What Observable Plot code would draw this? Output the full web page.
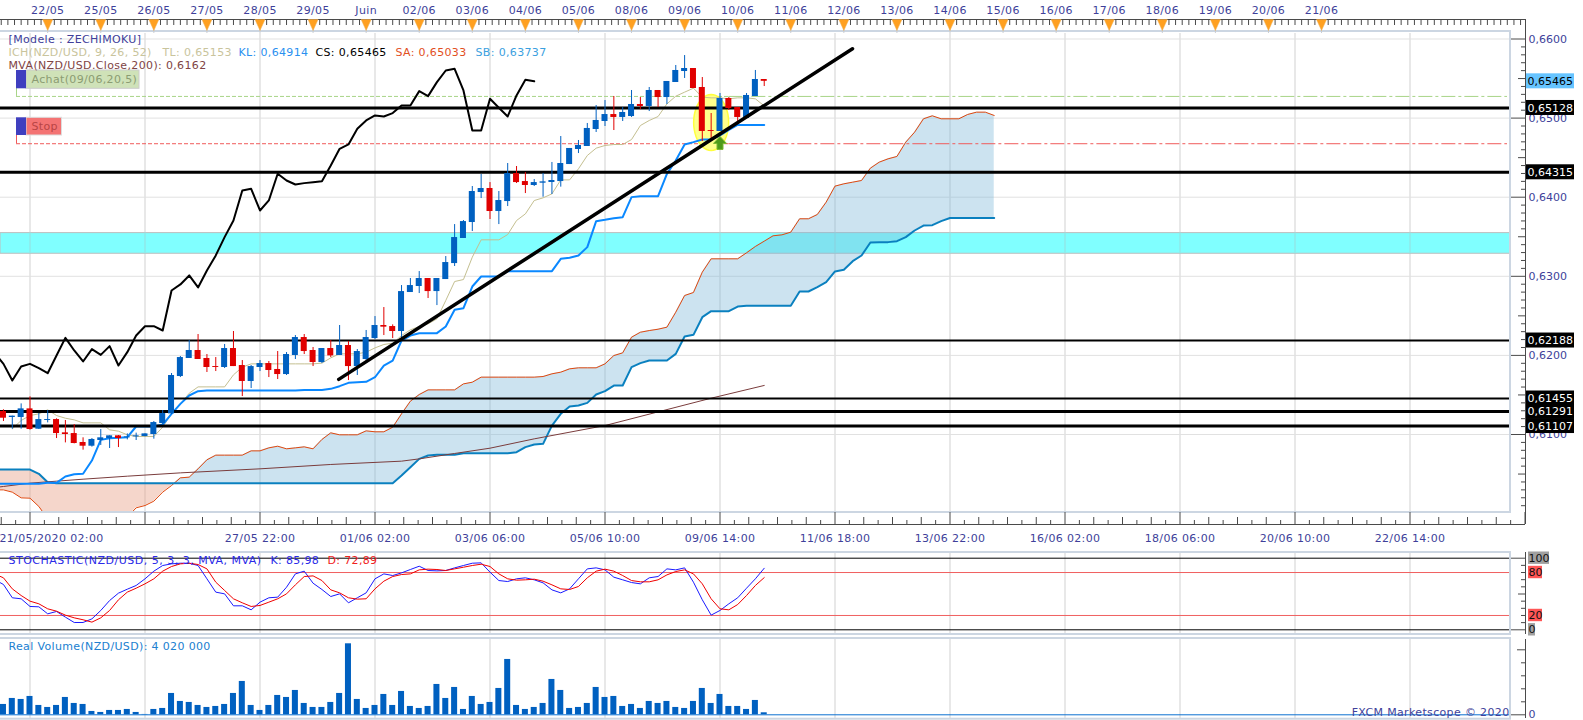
<!DOCTYPE html>
<html>
<head>
<meta charset="utf-8">
<script src="https://cdn.jsdelivr.net/npm/d3@7"></script>
<script src="https://cdn.jsdelivr.net/npm/@observablehq/plot@0.6"></script>
<style>
html,body{margin:0;padding:0;background:#fff;overflow:hidden}
#chart svg{display:block}
</style>
</head>
<body>
<div id="chart"></div>
<script>
// ---------- data (4h candles, index 0 = 21/05/2020 02:00) ----------
const firstBar = -3;
const lineStart = -4;
const open = [.61291,.61215,.61215,.61324,.61067,.61177,.61189,.61021,.61012,.60899,.60852,.60924,.60949,.60983,.60958,.60970,.60975,.61000,.61139,.61261,.61733,.61961,.62062,.61961,.61859,.61847,.62087,.61872,.61670,.61847,.61897,.61822,.61758,.61999,.62226,.62062,.61910,.62087,.61999,.62125,.61859,.61948,.62213,.62378,.62365,.62302,.62795,.62871,.62972,.62807,.62959,.63161,.63478,.63680,.64059,.64110,.63819,.63945,.64299,.64198,.64148,.64177,.64186,.64198,.64413,.64603,.64641,.64856,.64957,.65045,.65008,.65020,.65172,.65147,.65349,.65260,.65450,.65589,.65627,.65387,.64843,.64831,.65248,.65134,.64995,.65273,.65488];
const high = [.61312,.61232,.61387,.61476,.61265,.61303,.61198,.61177,.61126,.60958,.60949,.61063,.60983,.60987,.61008,.61017,.61008,.61164,.61303,.61771,.61986,.62188,.62264,.62011,.61973,.62138,.62302,.61935,.61872,.61935,.61923,.62049,.62036,.62251,.62264,.62100,.62087,.62188,.62378,.62176,.62074,.62315,.62491,.62605,.62386,.62883,.62972,.63060,.62972,.62972,.63250,.63654,.63705,.64135,.64287,.64185,.64072,.64426,.64388,.64312,.64223,.64300,.64439,.64767,.64616,.64717,.64932,.65159,.65222,.65273,.65134,.65349,.65260,.65387,.65349,.65463,.65665,.65791,.65627,.65513,.65058,.65311,.65260,.65134,.65311,.65602,.65488];
const low = [.61164,.61067,.61067,.61055,.61063,.61147,.60949,.60894,.60882,.60802,.60840,.60861,.60823,.60835,.60932,.60924,.60970,.60941,.61126,.61253,.61720,.61961,.61948,.61784,.61796,.61834,.61859,.61480,.61581,.61796,.61720,.61695,.61746,.61948,.62011,.61859,.61897,.61973,.61999,.61682,.61746,.61935,.62201,.62251,.62213,.62209,.62795,.62782,.62719,.62630,.62959,.63124,.63478,.63566,.63983,.63718,.63654,.63882,.64173,.64046,.64135,.64000,.64034,.64127,.64413,.64552,.64641,.64818,.64894,.64843,.64957,.65008,.65109,.65083,.65134,.65172,.65450,.65501,.65374,.64704,.64704,.64831,.65096,.64932,.64995,.65273,.65399];
const close = [.61206,.61232,.61324,.61063,.61189,.61189,.61012,.61000,.60886,.60852,.60937,.60958,.60983,.60949,.60970,.60983,.61008,.61151,.61265,.61746,.61973,.62062,.61948,.61847,.61847,.62087,.61859,.61670,.61859,.61897,.61809,.61758,.62011,.62226,.62049,.61910,.62087,.61994,.62125,.61859,.62049,.62226,.62378,.62357,.62302,.62807,.62883,.62972,.62807,.62972,.63174,.63490,.63692,.64072,.64110,.63819,.63958,.64299,.64185,.64148,.64185,.64194,.64211,.64426,.64616,.64654,.64869,.64970,.65045,.65008,.65071,.65172,.65147,.65349,.65260,.65463,.65602,.65627,.65374,.64831,.64831,.65248,.65121,.65008,.65286,.65488,.65465];

const tenkanStart = -2;
const tenkan = [.61071,.61177,.61240,.61261,.61312,.61240,.61206,.61185,.61147,.61147,.61147,.61059,.61042,.60996,.60975,.60975,.60975,.61093,.61261,.61387,.61522,.61602,.61602,.61602,.61602,.61754,.61851,.61893,.61893,.61893,.61893,.61893,.61893,.61893,.61893,.61902,.61969,.62020,.62020,.62020,.62041,.62095,.62138,.62154,.62251,.62323,.62365,.62399,.62462,.62694,.62934,.62959,.63242,.63461,.63461,.63461,.63528,.63705,.63789,.63958,.63992,.64042,.64219,.64219,.64359,.64527,.64620,.64654,.64666,.64666,.64729,.64906,.64970,.65020,.65180,.65277,.65328,.65378,.65265,.65256,.65256,.65244,.65256,.65256,.65244,.65153];

const kijun = [.60376,.60376,.60376,.60376,.60376,.60376,.60389,.60389,.60469,.60498,.60503,.60671,.60932,.60953,.60958,.60966,.61101,.61101,.61101,.61126,.61261,.61387,.61493,.61548,.61556,.61556,.61556,.61556,.61556,.61556,.61556,.61556,.61556,.61556,.61556,.61564,.61564,.61564,.61577,.61611,.61653,.61661,.61666,.61724,.61872,.61935,.62188,.62251,.62281,.62281,.62281,.62365,.62576,.62597,.62871,.62997,.62997,.62997,.63065,.63065,.63065,.63065,.63065,.63065,.63221,.63234,.63263,.63369,.63697,.63714,.63735,.63748,.64001,.64013,.64013,.64013,.64295,.64464,.64666,.64696,.64730,.64730,.64780,.64852,.64914,.64914,.64914,.64914];

const chikou = [.62032,.61893,.61682,.61859,.61893,.61838,.61775,.61999,.62222,.62062,.61923,.62079,.62007,.62117,.61872,.62041,.62251,.62369,.62369,.62315,.62821,.62897,.63011,.62859,.63074,.63264,.63495,.63706,.64085,.64106,.63832,.63959,.64296,.64211,.64161,.64178,.64190,.64203,.64401,.64612,.64667,.64865,.64970,.65033,.65021,.65063,.65160,.65160,.65341,.65278,.65455,.65602,.65623,.65349,.64844,.64844,.65244,.65130,.65021,.65286,.65484,.65465];

const senkouA = [.60300,.60300,.60271,.60199,.60195,.60090,.59934,.59871,.59849,.59828,.59828,.59828,.59828,.59828,.59828,.59955,.60073,.60102,.60157,.60271,.60355,.60452,.60461,.60566,.60680,.60739,.60739,.60739,.60739,.60793,.60793,.60831,.60852,.60819,.60831,.60844,.60819,.60937,.61021,.60996,.60996,.60996,.61046,.61034,.61034,.61092,.61261,.61421,.61505,.61564,.61564,.61564,.61564,.61640,.61661,.61725,.61725,.61725,.61725,.61725,.61725,.61725,.61733,.61767,.61788,.61830,.61843,.61843,.61843,.61893,.61998,.62032,.62230,.62293,.62314,.62331,.62357,.62546,.62757,.62795,.63052,.63221,.63221,.63221,.63221,.63297,.63377,.63444,.63512,.63524,.63558,.63727,.63727,.63781,.63937,.64140,.64169,.64190,.64211,.64367,.64443,.64485,.64515,.64696,.64822,.64991,.65029,.64991,.64991,.64991,.65046,.65075,.65075,.65033];
const senkouB = [.60557,.60557,.60557,.60557,.60557,.60503,.60397,.60385,.60385,.60385,.60385,.60385,.60385,.60385,.60385,.60385,.60385,.60385,.60385,.60385,.60385,.60385,.60385,.60385,.60385,.60385,.60385,.60385,.60385,.60385,.60385,.60385,.60385,.60385,.60385,.60385,.60385,.60385,.60385,.60385,.60385,.60385,.60385,.60385,.60385,.60385,.60481,.60587,.60692,.60734,.60743,.60743,.60743,.60764,.60764,.60764,.60764,.60764,.60764,.60776,.60840,.60873,.60882,.61113,.61261,.61354,.61366,.61400,.61505,.61548,.61619,.61619,.61851,.61902,.61935,.61935,.61935,.62019,.62239,.62260,.62483,.62559,.62559,.62559,.62618,.62627,.62627,.62627,.62627,.62627,.62627,.62808,.62808,.62863,.62926,.63061,.63082,.63191,.63263,.63427,.63432,.63432,.63444,.63495,.63579,.63642,.63646,.63697,.63737,.63737,.63737,.63737,.63737,.63737];

const mvaBars = [-4,-3,0,3,6,11,17,26,34,42,44,48,52,57,65,77,83];
const mvaVals = [.60330,.60343,.60385,.60410,.60435,.60473,.60515,.60566,.60621,.60663,.60692,.60760,.60827,.60945,.61113,.61459,.6162];

const stochK = [70,63.3,44.7,43.3,32.6,32.1,22.3,25.6,17.7,10.2,10.2,15.3,27.0,40.9,51.2,56.7,61.9,71.2,81.9,89.8,92.1,93.0,93.0,89.8,71.2,52.6,50.2,33.5,33.5,27.9,38.6,44.7,45.6,59.5,78.1,81.9,65.1,56.3,46.5,50.2,37.7,44.7,51.6,71.2,78.1,75.8,79.5,84.2,88.8,82.8,82.3,82.8,86.5,89.8,93.0,93.5,80.5,68.8,67.4,71.2,72.6,69.8,65.6,55.8,51.6,57.2,71.2,85.1,86.5,83.7,73.5,69.8,66.0,64.2,72.6,74.4,85.1,83.7,86.5,66.5,41.9,20.5,27.0,36.3,44.7,58.1,71.2,85.98];
const stochD = [78,72.6,57.2,47.9,40.0,36.3,29.3,26.0,20.5,16.7,14.0,10.7,16.7,27.0,41.9,52.6,58.1,64.2,71.2,81.9,88.4,92.1,93.0,91.2,85.1,66.5,54.9,43.3,37.7,32.6,34.0,38.6,43.3,50.2,62.8,74.4,75.3,68.8,55.8,51.6,44.7,42.8,43.3,57.2,67.9,74.4,77.2,78.1,83.7,84.7,84.2,82.8,85.1,87.4,89.8,91.6,88.4,78.1,71.2,69.3,69.8,70.7,67.9,62.8,57.2,56.3,60.5,72.6,81.9,84.7,81.9,75.8,68.8,67.0,67.0,69.8,76.7,81.4,83.7,78.1,64.2,43.3,29.3,27.9,35.3,47.9,61.9,72.89];

// millions of units
const volume = [20.7,32.7,30.7,36.7,18.7,14.7,18.7,34.7,22.7,20.7,6.7,4.7,8.7,8.7,10.7,4.7,0.7,10.7,12.7,42.7,26.7,24.7,18.7,14.7,16.7,20.7,42.7,66.7,18.7,8.7,18.7,38.7,34.7,48.7,22.7,14.7,14.7,24.7,42.7,142,30.7,12.7,18.7,40.7,18.7,46.7,16.7,12.7,16.7,60.7,32.7,54.7,10.7,36.7,20.7,24.7,52.7,110.7,18.7,10.7,14.7,22.7,70.7,48.7,12.7,14.7,22.7,54.7,34.7,36.7,16.7,20.7,12.7,26.7,22.7,26.7,14.7,12.7,26.7,52.7,22.7,40.7,16.7,16.7,10.7,28.7,4.02];

const levels = [.65128,.64315,.62188,.61455,.61291,.61107];
const levelWidths = [3,3,2,2,3,3];
const currentPrice = .65465;
const bandLow = .63285, bandHigh = .63546;
const buyLevel = .65274, stopLevel = .64676;
const trendBars = [34.9,92.98], trendPrices = [.61697,.65877];

const priceTicks = [.66,.65,.64,.63,.62,.61];
const gridBars = [0,13,26,39,52,65,78,91,104,117,130,143,156];
const topBars = [2,8,14,20,26,32,38,44,50,56,62,68,74,80,86,92,98,104,110,116,122,128,134,140,146];
const topLabels = ["22/05","25/05","26/05","27/05","28/05","29/05","Juin","02/06","03/06","04/06","05/06","08/06","09/06","10/06","11/06","12/06","13/06","14/06","15/06","16/06","17/06","18/06","19/06","20/06","21/06"];
const bottomBars = [2.43,26,39,52,65,78,91,104,117,130,143,156];
const bottomLabels = ["21/05/2020 02:00","27/05 22:00","01/06 02:00","03/06 06:00","05/06 10:00","09/06 14:00","11/06 18:00","13/06 22:00","16/06 02:00","18/06 06:00","20/06 10:00","22/06 14:00"];

const legendTexts = ["[Modele : ZECHIMOKU]","ICH(NZD/USD, 9, 26, 52)","TL: 0,65153","KL: 0,64914","CS: 0,65465","SA: 0,65033","SB: 0,63737","MVA(NZD/USD.Close,200): 0,6162"];
const legendLeft = [8,8,162,238,315,395,475,8];
const legendRow = [39,52,52,52,52,52,52,65];
const legendColors = ["#40409a","#c9c49c","#c9c49c","#2a90f0","#000000","#e2501e","#3aa0e0","#804444"];

// ---------- shared scale set-up ----------
const W = 1583, axisRight = 58;
const pxPerBar = 115/13, pxPerPrice = 7910;
const barAt = px => (px-29.5)/pxPerBar;         // frame pixel -> bar index
const xDomain = [barAt(0), barAt(W-axisRight)];
const frameRight = barAt(1510), axisBar = barAt(1525);
const font = {fontFamily:"'DejaVu Sans',Verdana,sans-serif",fontSize:"11px",letterSpacing:"0.35px",background:"transparent"};
const navy = "#403f9a", axisGrey = "#4a4a4a", gridGrey = "#e1e1e1", frameBlue = "#ccd6e2";
const comma = d => String(d).replace(".",",");
const series = (arr,start) => arr.map((v,k)=>({i:start+k,v}));
const bars = open.map((o,k)=>({i:firstBar+k,o,h:high[k],l:low[k],c:close[k],up:close[k]>=o,vol:volume[k]}));
const blue = "#0060c0", red = "#e00000", bodyHalf = 0.34;
const pY = px => .66-(px-38.5)/pxPerPrice;      // image pixel -> price
const dY = px => px/pxPerPrice, dX = px => px/pxPerBar;

// custom symbols
const ellipseSym = {draw(c){const a=17.5,b=28;c.moveTo(a,0);
  for(let t=1;t<48;t++){const th=t/48*2*Math.PI;c.lineTo(a*Math.cos(th),b*Math.sin(th));}c.closePath();}};
const arrowSym = {draw(c){c.moveTo(0,-7);c.lineTo(6.5,0);c.lineTo(3,0);c.lineTo(3,6);c.lineTo(-3,6);c.lineTo(-3,0);c.lineTo(-6.5,0);c.closePath();}};
const triangleSym = {draw(c){c.moveTo(-5,0);c.lineTo(5,0);c.lineTo(0,11);c.closePath();}};

// ---------- main price panel ----------
const pTop = pY(19), pBot = pY(524), pFrameTop = pY(31), pFrameBot = pY(512);
const topMap = new Map(topBars.map((b,k)=>[b,topLabels[k]]));
const botMap = new Map(bottomBars.map((b,k)=>[b,bottomLabels[k]]));
const topMinor = d3.range(-3.25,169,.75);
const botAll = d3.range(-26,14*13,1.625).filter(b=>b>=barAt(0)&&b<=axisBar);
const yMinor = d3.range(601,661);
const cloudA = series(senkouA,lineStart).map((d,k)=>({i:d.i,a:d.v,b:senkouB[k]}));

const tags = [{p:currentPrice,bg:"#66c4ff",fg:"#000"}].concat(levels.map(p=>({p,bg:"#000",fg:"#fff"})));

const price = Plot.plot({
  width:W,height:545,marginLeft:0,marginRight:axisRight,marginTop:19,marginBottom:21,
  style:font,
  x:{domain:xDomain,axis:null,label:null},
  y:{domain:[pBot,pTop],axis:null,label:null},
  marks:[
    // grid
    Plot.ruleY(priceTicks,{x1:barAt(0),x2:frameRight,stroke:gridGrey,strokeWidth:1}),
    Plot.ruleX(gridBars,{y1:pFrameBot,y2:pY(33),stroke:gridGrey,strokeWidth:1.5}),
    // cyan zone
    Plot.rect([0],{x1:barAt(0),x2:frameRight,y1:bandLow,y2:bandHigh,fill:"#80ffff",stroke:"#bdbdbd",strokeWidth:1}),
    Plot.ruleX(gridBars,{y1:bandLow,y2:bandHigh,stroke:"#8fe8e8",strokeWidth:1.5}),
    // ichimoku cloud
    Plot.areaY(cloudA.filter(d=>d.i<=16),{x:"i",y1:"a",y2:"b",fill:"#e8a48c",fillOpacity:.45}),
    Plot.areaY(cloudA.filter(d=>d.i>=16),{x:"i",y1:"a",y2:"b",fill:"#7fb8d9",fillOpacity:.4}),
    Plot.line(series(senkouA,lineStart),{x:"i",y:"v",stroke:"#e0480e",strokeWidth:1}),
    Plot.line(series(senkouB,lineStart),{x:"i",y:"v",stroke:"#0a80bf",strokeWidth:2}),
    // anything below the panel frame is hidden
    Plot.rect([0],{x1:barAt(0),x2:axisBar,y1:pY(545),y2:pFrameBot,fill:"#fff"}),
    // moving average
    Plot.line(mvaBars.map((b,k)=>({b,v:mvaVals[k]})),{x:"b",y:"v",stroke:"#7a3c3c",strokeWidth:1}),
    // dashed order levels
    Plot.ruleY([buyLevel],{x1:barAt(16),x2:79,stroke:"#a8d488",strokeDasharray:"4,2"}),
    Plot.ruleY([buyLevel],{x1:79,x2:barAt(1507),stroke:"#a8d488",strokeDasharray:"14,3,3,3"}),
    Plot.ruleY([stopLevel],{x1:barAt(16),x2:79,stroke:"#f05a5a",strokeDasharray:"4,2"}),
    Plot.ruleY([stopLevel],{x1:79,x2:barAt(1507),stroke:"#f05a5a",strokeDasharray:"14,3,3,3"}),
    // highlight behind the candles
    Plot.dot([{i:77,p:.64945}],{x:"i",y:"p",symbol:ellipseSym,r:5,fill:"#ffff8c",stroke:"#ffff3c",strokeWidth:1.5}),
    // ichimoku lines
    Plot.line(series(chikou,lineStart),{x:"i",y:"v",stroke:"#000",strokeWidth:2}),
    Plot.line(series(tenkan,tenkanStart),{x:"i",y:"v",stroke:"#c4bf90",strokeWidth:1}),
    Plot.line(series(kijun,lineStart),{x:"i",y:"v",stroke:"#0a88ff",strokeWidth:2}),
    // support/resistance levels
    Plot.ruleY(levels,{x1:barAt(0),x2:frameRight,stroke:"#000",strokeWidth:(d,k)=>levelWidths[k]}),
    // candles
    Plot.ruleX(bars,{x:"i",y1:"l",y2:"h",stroke:d=>d.up?blue:red,strokeWidth:1}),
    Plot.rect(bars,{x1:d=>d.i-bodyHalf,x2:d=>d.i+bodyHalf,y1:d=>d.o,y2:d=>d.c,fill:d=>d.up?blue:red}),
    // buy arrow and trend line
    Plot.dot([{i:78,p:.6468}],{x:"i",y:"p",symbol:arrowSym,r:5,fill:"#4f9a1a",stroke:"#7ab830",strokeWidth:1}),
    Plot.line(trendBars.map((b,k)=>({b,v:trendPrices[k]})),{x:"b",y:"v",stroke:"#000",strokeWidth:3.5}),
    // panel frame
    Plot.rect([0],{x1:barAt(-2),x2:frameRight,y1:pFrameBot,y2:pFrameTop,fill:"none",stroke:frameBlue,strokeWidth:2}),
    // order tags
    Plot.ruleX([barAt(16)],{y1:pY(88),y2:buyLevel,stroke:"#a8d488"}),
    Plot.ruleX([barAt(16)],{y1:pY(135),y2:stopLevel,stroke:"#f05a5a"}),
    Plot.rect([0],{x1:barAt(26),x2:barAt(139),y1:pY(88.3),y2:pY(70),fill:"#cfe2b8",stroke:"#cccccc"}),
    Plot.rect([0],{x1:barAt(16),x2:barAt(26),y1:pY(88.3),y2:pY(70),fill:"#3f3fbf"}),
    Plot.rect([0],{x1:barAt(26),x2:barAt(61.5),y1:pY(135),y2:pY(117.3),fill:"#f47474",stroke:"#dddddd"}),
    Plot.rect([0],{x1:barAt(16),x2:barAt(26),y1:pY(135),y2:pY(117.3),fill:"#3f3fbf"}),
    Plot.text(["Achat(09/06,20,5)"],{x:barAt(31),y:pY(79),text:d=>d,textAnchor:"start",fill:"#8b9c72"}),
    Plot.text(["Stop"],{x:barAt(31),y:pY(126),text:d=>d,textAnchor:"start",fill:"#b84444"}),
    // axis lines and ticks
    Plot.ruleY([pTop],{x1:barAt(0),x2:axisBar,stroke:axisGrey}),
    Plot.ruleY([pBot],{x1:barAt(0),x2:axisBar,stroke:axisGrey}),
    Plot.ruleX([axisBar],{y1:pBot,y2:pTop,stroke:axisGrey}),
    Plot.ruleX(topMinor,{y1:pTop,y2:pTop-dY(6),stroke:axisGrey}),
    Plot.ruleX(botAll,{y1:pBot,y2:d=>{const k=Math.round(d/1.625);return pBot+dY(k%8===0?12:k%2===0?7:4);},stroke:axisGrey}),
    Plot.ruleX(topBars,{y1:pTop-dY(6),y2:pY(33),stroke:"#c9ccd2"}),
    Plot.dot(topBars,{x:d=>d,y:pTop,symbol:triangleSym,r:5,fill:"#ffa020",stroke:"#f0b050",strokeWidth:.5}),
    Plot.ruleY(yMinor,{y:d=>d/1000,x1:d=>axisBar-dX(d%10===0?14:d%5===0?7:4),x2:axisBar,stroke:axisGrey}),
    Plot.axisX({anchor:"top",ticks:topBars,tickSize:0,tickPadding:6,label:null,color:navy,tickFormat:d=>topMap.get(d)}),
    Plot.axisX({anchor:"bottom",ticks:bottomBars,tickSize:0,tickPadding:10,label:null,color:navy,tickFormat:d=>botMap.get(d)}),
    Plot.axisY({anchor:"right",ticks:priceTicks,tickSize:0,tickPadding:3,label:null,color:navy,tickFormat:d=>comma(d3.format(".4f")(d))}),
    // value tags
    Plot.rect(tags,{x1:barAt(1526),x2:barAt(1574),y1:d=>d.p-dY(7.5),y2:d=>d.p+dY(7.5),fill:"bg"}),
    Plot.text(tags,{x:barAt(1527),y:"p",text:d=>comma(d3.format(".5f")(d.p)),textAnchor:"start",fill:"fg"}),
    // legend
    ...legendTexts.map((t,k)=>Plot.text([t],{frameAnchor:"top-left",dx:legendLeft[k],dy:legendRow[k]-19,text:d=>d,textAnchor:"start",lineAnchor:"middle",fill:legendColors[k]}))
  ]
});

// ---------- stochastic panel ----------
const sPx = 0.716, s100 = 12.7;                 // px per unit, y of 100 in this svg
const sAt = px => 100-(px-s100)/sPx;
const stochTicks = d3.range(0,101,10);
const stochTags = [{v:100,x2:1549,bg:"#a0a0a0"},{v:80,x2:1542,bg:"#ff5555"},{v:20,x2:1542,bg:"#ff5555"},{v:0,x2:1535,bg:"#a0a0a0"}];
const stoch = Plot.plot({
  width:W,height:91,marginLeft:0,marginRight:axisRight,marginTop:0,marginBottom:0,
  style:font,
  x:{domain:xDomain,axis:null,label:null},
  y:{domain:[sAt(91),sAt(0)],axis:null,label:null},
  marks:[
    Plot.ruleX(gridBars,{y1:sAt(89),y2:sAt(7),stroke:gridGrey,strokeWidth:1.5}),
    Plot.ruleY([100,0],{x1:barAt(0),x2:frameRight,stroke:"#000"}),
    Plot.ruleY([80,20],{x1:barAt(0),x2:frameRight,stroke:"#f06060"}),
    Plot.line(series(stochK,lineStart),{x:"i",y:"v",stroke:"#1a1aff",strokeWidth:1}),
    Plot.line(series(stochD,lineStart),{x:"i",y:"v",stroke:"#f00000",strokeWidth:1}),
    Plot.rect([0],{x1:barAt(-2),x2:frameRight,y1:sAt(89),y2:sAt(7),fill:"none",stroke:frameBlue,strokeWidth:2}),
    Plot.ruleX([axisBar],{y1:sAt(89),y2:sAt(7),stroke:axisGrey}),
    Plot.ruleY(stochTicks,{x1:d=>axisBar-dX(d%100===0?14:d%50===0?7:4),x2:axisBar,stroke:axisGrey}),
    Plot.rect(stochTags,{x1:barAt(1528),x2:d=>barAt(d.x2),y1:d=>d.v-6.2/sPx,y2:d=>d.v+6.2/sPx,fill:"bg"}),
    Plot.axisY({anchor:"right",ticks:[100,80,20,0],tickSize:0,tickPadding:3,label:null,color:"#111"}),
    Plot.text(["STOCHASTIC(NZD/USD, 5, 3, 3, MVA, MVA)"],{frameAnchor:"top-left",dx:8,dy:15,text:d=>d,textAnchor:"start",lineAnchor:"middle",fill:"#2a2ae8"}),
    Plot.text(["K: 85,98"],{frameAnchor:"top-left",dx:270,dy:15,text:d=>d,textAnchor:"start",lineAnchor:"middle",fill:"#2a2ae8"}),
    Plot.text(["D: 72,89"],{frameAnchor:"top-left",dx:327,dy:15,text:d=>d,textAnchor:"start",lineAnchor:"middle",fill:"#f02020"})
  ]
});

// ---------- volume panel ----------
const vAt = px => (78.3-px)*2;                  // svg pixel -> millions
const volTicks = [0,26,52,78,104,130];
const vol = Plot.plot({
  width:W,height:84,marginLeft:0,marginRight:axisRight,marginTop:0,marginBottom:0,
  style:font,
  x:{domain:xDomain,axis:null,label:null},
  y:{domain:[vAt(84),vAt(0)],axis:null,label:null},
  marks:[
    Plot.ruleX(gridBars,{y1:vAt(82),y2:vAt(2),stroke:gridGrey,strokeWidth:1.5}),
    Plot.rect(bars,{x1:d=>d.i-bodyHalf,x2:d=>d.i+bodyHalf,y1:0,y2:"vol",fill:blue}),
    Plot.ruleY([0],{x1:barAt(0),x2:frameRight,stroke:"#0a70d0"}),
    Plot.rect([0],{x1:barAt(-2),x2:frameRight,y1:vAt(82.7),y2:vAt(2),fill:"none",stroke:frameBlue,strokeWidth:2}),
    Plot.ruleX([axisBar],{y1:vAt(82),y2:vAt(3),stroke:axisGrey}),
    Plot.ruleY(volTicks,{x1:d=>axisBar-dX(d===0?14:d===130?8:4),x2:axisBar,stroke:axisGrey}),
    Plot.axisY({anchor:"right",ticks:[0],tickSize:0,tickPadding:3,label:null,color:navy}),
    Plot.text(["Real Volume(NZD/USD): 4 020 000"],{frameAnchor:"top-left",dx:8,dy:10,text:d=>d,textAnchor:"start",lineAnchor:"middle",fill:"#2080d0"}),
    Plot.text(["FXCM Marketscope © 2020"],{frameAnchor:"top-right",dx:-16,dy:76,text:d=>d,textAnchor:"end",lineAnchor:"middle",fill:navy})
  ]
});

const host = document.getElementById("chart");
host.append(price,stoch,vol);
// hinted-width emulation: plain numbers have no extra tracking, the long stochastic title a little more
d3.selectAll("#chart svg text").each(function(){
  const t = this.textContent;
  if (/^[\d,]+$/.test(t)) this.style.letterSpacing = "0";
  else if (t.startsWith("STOCHASTIC")) this.style.letterSpacing = "0.5px";
});
</script>
</body>
</html>
